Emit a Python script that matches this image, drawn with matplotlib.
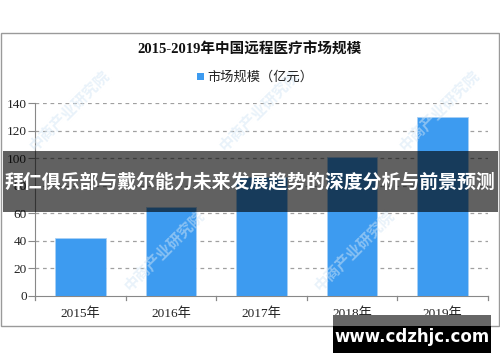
import matplotlib
matplotlib.use("Agg")
import matplotlib.pyplot as plt
from matplotlib.patches import Rectangle

plt.rcParams['font.family'] = ['Liberation Serif', 'Noto Sans CJK SC', 'DejaVu Sans']

# data
years = ["2015年", "2016年", "2017年", "2018年", "2019年"]
market = [42.2, 64.7, 86.0, 100.6, 129.8]
yticks = [0, 20, 40, 60, 80, 100, 120, 140]

title = "2015-2019年中国远程医疗市场规模"
legend_label = "市场规模（亿元）"
banner_text = "拜仁俱乐部与戴尔能力未来发展趋势的深度分析与前景预测"
site_text = "www.cdzhjc.com"
watermark = "中商产业研究院"

W, H = 500, 362
fig = plt.figure(figsize=(W / 100, H / 100), dpi=100)


def fx(px):
    return px / W


def fy(py):
    return 1 - py / H


def box(x0, y0, x1, y1, **kw):
    fig.patches.append(Rectangle((fx(x0), fy(y1)), fx(x1) - fx(x0), fy(y0) - fy(y1),
                                 transform=fig.transFigure, figure=fig, **kw))


# chart frame
box(1, 33, 499, 326, facecolor="none", edgecolor="#9a9a9a", lw=1.0, zorder=0)

# faint watermarks (kept inside the picture)
for wx, wy in [(70, 110), (260, 110), (440, 110), (165, 250), (355, 250)]:
    fig.text(fx(wx), fy(wy), watermark, rotation=45, ha="center", va="center",
             fontsize=11, fontweight="bold", color="#d3e6f5", alpha=0.5,
             family=['Noto Sans CJK SC'], zorder=0)

ax = fig.add_axes([fx(35), fy(296), fx(488) - fx(35), fy(103) - fy(296)])
ax.set_facecolor("none")
x = list(range(len(years)))
ax.bar(x, market, width=0.56, color="#3d9bf0", edgecolor="#a8d0f5", lw=0.6, zorder=3,
       label=legend_label)
ax.set_xlim(-0.5, len(years) - 0.5)
ax.set_ylim(0, 140)
ax.set_yticks(yticks)
ax.set_yticklabels([str(v) for v in yticks], fontsize=9.5, color="#222222")
ax.set_xticks(x)
ax.set_xticklabels(years, fontsize=9.5, color="#222222")
for v in yticks[1:]:
    ax.axhline(v, color="#a0a0a0", lw=0.9, ls=(0, (3, 3)), zorder=1)
for s in ["top", "right"]:
    ax.spines[s].set_visible(False)
ax.spines["left"].set_color("#888888")
ax.spines["bottom"].set_color("#888888")
ax.tick_params(axis="y", length=5, color="#888888", pad=1)
ax.tick_params(axis="x", length=0, pad=8)
# category boundary ticks on x axis
for b in [i - 0.5 for i in range(len(years) + 1)]:
    ax.plot([b, b], [0, -3], color="#888888", lw=0.9, clip_on=False)

# title and legend
fig.text(0.5, fy(50), title, ha="center", va="center", fontsize=10.5, fontweight="bold",
         color="#111111")
box(197, 73, 204, 80, facecolor="#3d9bf0", edgecolor="none")
fig.text(fx(207), fy(77), legend_label, ha="left", va="center", fontsize=9.5,
         color="#222222", family=['Noto Sans CJK SC', 'DejaVu Sans'])

# overlay banner
box(3, 151, 498, 212, facecolor="black", alpha=0.62, edgecolor="none", zorder=10)
fig.text(0.5, fy(182), banner_text, ha="center", va="center", fontsize=13.6,
         fontweight="bold", color="white", family=['Noto Sans CJK SC'], zorder=11)

# site box
box(333, 315, 491, 326, facecolor="#666666", edgecolor="none", zorder=10)
box(333, 326, 491, 353, facecolor="black", edgecolor="none", zorder=10)
fig.text(fx(412), fy(337), site_text, ha="center", va="center", fontsize=12,
         fontweight="bold", color="white", family=['DejaVu Sans'], zorder=11)

fig.savefig("out.png", dpi=100)
